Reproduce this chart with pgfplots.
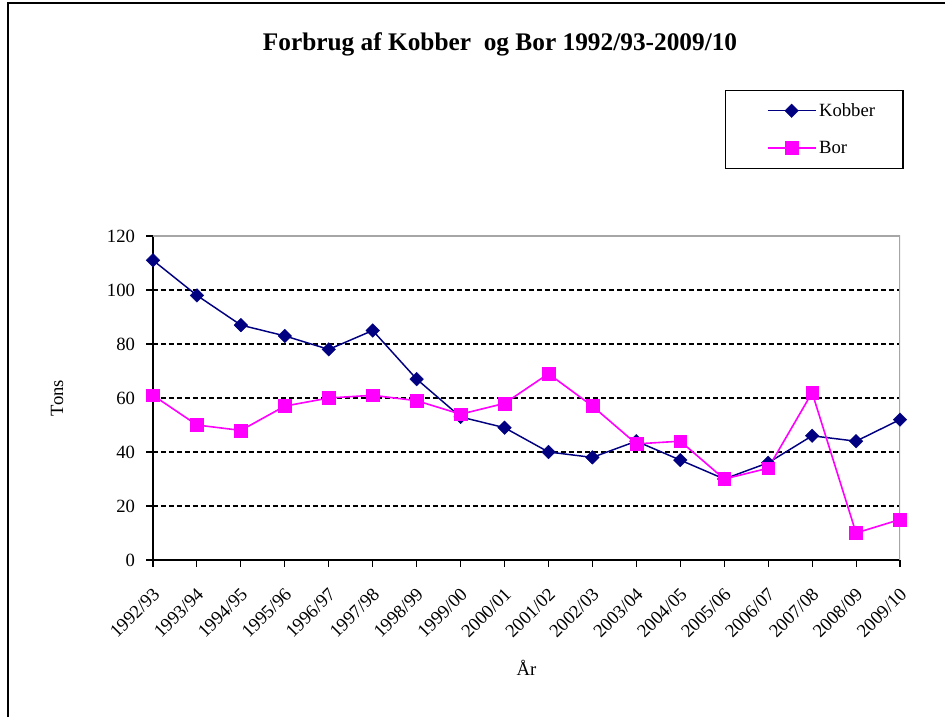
\documentclass[border=0pt]{standalone}
\usepackage{fontspec}
\setmainfont{Liberation Serif}
\usepackage{pgfplots}
\pgfplotsset{compat=1.18}
\definecolor{kob}{HTML}{000080}
\definecolor{bor}{HTML}{FF00FF}
\begin{document}
\begin{tikzpicture}
\useasboundingbox (-114.75pt,-117.75pt) rectangle (594pt,420pt);
\draw[line width=1.5pt] (-108.75pt,-117.75pt) -- (-108.75pt,417.75pt) -- (594pt,417.75pt);
\node[font=\fontsize{19}{22}\selectfont\bfseries] at (260.25pt,387pt) {Forbrug af Kobber\ \ og Bor 1992/93-2009/10};
\begin{axis}[
  at={(0pt,0pt)}, anchor=south west,
  scale only axis, width=560.25pt, height=243pt,
  xmin=0, xmax=17, ymin=0, ymax=120,
  xtick={0,...,17},
  xticklabels={1992/93,1993/94,1994/95,1995/96,1996/97,1997/98,1998/99,1999/00,2000/01,2001/02,2002/03,2003/04,2004/05,2005/06,2006/07,2007/08,2008/09,2009/10},
  ytick={0,20,...,120},
  axis x line*=bottom, axis y line*=left,
  axis line style={-, black, line width=1pt},
  tick align=outside, major tick length=5pt,
  tick style={black, line width=0.8pt},
  ymajorgrids, major grid style={black, line width=0.8pt, dash pattern=on 4pt off 2pt},
  /pgf/number format/assume math mode=true,
  ticklabel style={font=\fontsize{14}{16}\selectfont},
  xticklabel style={xshift=5pt, yshift=-16pt, rotate=45, anchor=east},
  yticklabel style={xshift=-5pt},
  label style={font=\fontsize{14}{16}\selectfont},
  ylabel={Tons}, xlabel={År},
  ylabel style={at={(axis description cs:-0.1285,0.5)}, anchor=center},
  xlabel style={at={(axis description cs:0.5,-0.333)}, anchor=center},
  legend style={at={(1.005,1.452)}, anchor=north east, draw=black, line width=1pt,
    inner xsep=19pt, inner ysep=7.8pt, row sep=13pt, font=\fontsize{14}{16}\selectfont},
  legend cell align=left,
  legend image code/.code={\path (-11.75pt,0pt); \draw[mark repeat=2,mark phase=2,#1] plot coordinates {(0pt,0pt)(18pt,0pt)(36pt,0pt)};},
]
\draw[gray!70, line width=1pt] (rel axis cs:0,1) -- (rel axis cs:1,1) -- (rel axis cs:1,0);
\addplot[kob, line width=1.1pt, mark=square*, mark size=3.6pt, mark options={rotate=45, solid, fill=kob, draw=kob, line width=0.3pt}] coordinates {
(0,111)(1,98)(2,87)(3,83)(4,78)(5,85)(6,67)(7,53)(8,49)(9,40)(10,38)(11,44)(12,37)(13,30)(14,36)(15,46)(16,44)(17,52)};
\addlegendentry{Kobber}
\addplot[bor, line width=1.2pt, mark=square*, mark size=4.8pt, mark options={solid, fill=bor, draw=bor, line width=0.3pt}] coordinates {
(0,61)(1,50)(2,48)(3,57)(4,60)(5,61)(6,59)(7,54)(8,58)(9,69)(10,57)(11,43)(12,44)(13,30)(14,34)(15,62)(16,10)(17,15)};
\addlegendentry{Bor}
\end{axis}
\end{tikzpicture}
\end{document}
